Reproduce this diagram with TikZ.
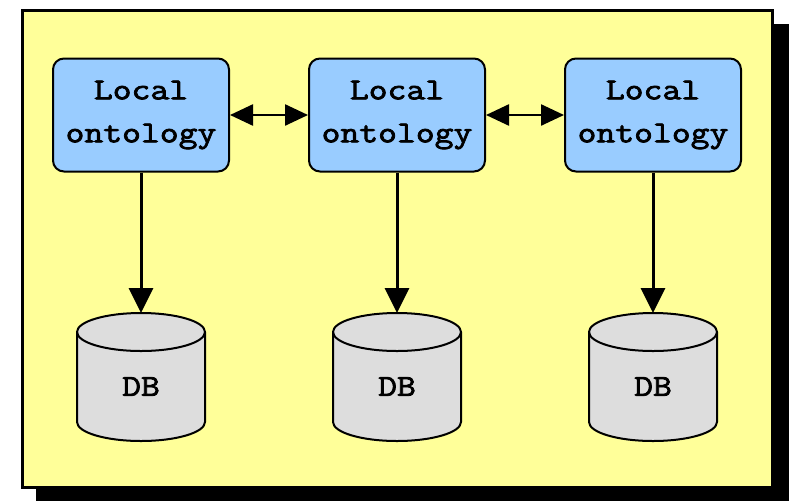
\documentclass[tikz,border=0pt]{standalone}
\usepackage{fontspec}
\newfontfamily\courb[FakeBold=2.5,FakeStretch=1.2]{Latin Modern Mono}
\usetikzlibrary{arrows.meta}
\definecolor{bgyellow}{HTML}{FFFF99}
\definecolor{boxblue}{HTML}{99CCFF}
\definecolor{dbgrey}{HTML}{DDDDDD}
\tikzset{
  onto/.style={draw=black, line width=2pt, fill=boxblue, rounded corners=11pt,
    minimum width=176pt, minimum height=113pt, align=center, inner sep=0pt,
    font=\courb\fontsize{30.5}{43}\selectfont},
  link/.style={line width=3pt, -{Triangle[length=25pt,width=24pt]}},
  peer/.style={line width=2.5pt, {Triangle[length=23pt,width=21pt]}-{Triangle[length=23pt,width=21pt]}},
  dblabel/.style={font=\courb\fontsize{30.5}{37}\selectfont, inner sep=0pt},
  cyl/.style={draw=black, line width=2pt, fill=dbgrey},
  frame/.style={draw=black, line width=3pt, fill=bgyellow},
  shadow/.style={fill=black}
}
\newcommand{\dbcyl}[2]{%
  \path[cyl] (#1-64,332) -- (#1-64,422) arc[start angle=180,end angle=0,x radius=64,y radius=19]
    -- (#1+64,332) arc[start angle=0,end angle=-180,x radius=64,y radius=19] -- cycle;
  \draw[line width=2pt] (#1-64,332) arc[start angle=180,end angle=0,x radius=64,y radius=19];
  \coordinate (#2top) at (#1,313);
  \node[dblabel] (#2) at (#1,386.5) {DB};
}
\begin{document}
\begin{tikzpicture}[x=1pt,y=-1pt]
\useasboundingbox (0,0) rectangle (789,501);
\fill[shadow] (36,24) rectangle (789,501);
\path[frame] (22,10) rectangle (772,487);

\node[onto] (lo1) at (141,115) {Local\\ontology};
\node[onto] (lo2) at (397,115) {Local\\ontology};
\node[onto] (lo3) at (653,115) {Local\\ontology};

\draw[peer] (lo1.east) -- (lo2.west);
\draw[peer] (lo2.east) -- (lo3.west);

\dbcyl{141}{db1}
\dbcyl{397}{db2}
\dbcyl{653}{db3}

\draw[link] (lo1.south) -- (db1top);
\draw[link] (lo2.south) -- (db2top);
\draw[link] (lo3.south) -- (db3top);
\end{tikzpicture}
\end{document}
